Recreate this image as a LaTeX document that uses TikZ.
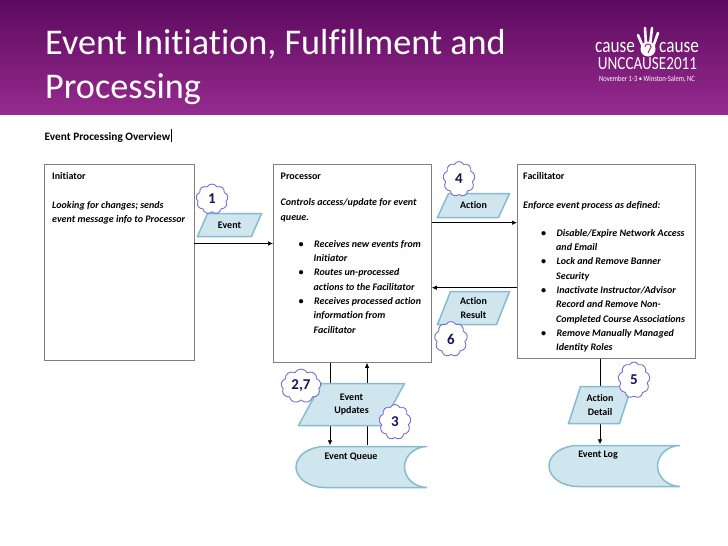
\documentclass[tikz,border=0pt]{standalone}
\usepackage{fontspec}
\setmainfont[Ligatures=NoCommon]{Carlito}
\newfontfamily\logofont[FakeStretch=0.82]{Carlito}
\definecolor{BandTop}{HTML}{5C0A5E}
\definecolor{BandLow}{HTML}{962B8E}
\definecolor{DataFill}{HTML}{CFE6EF}
\definecolor{DataLine}{HTML}{86BBD0}
\definecolor{PanelLine}{HTML}{7F7F7F}
\definecolor{CloudLine}{HTML}{7A6CD0}
\definecolor{StepInk}{HTML}{14145E}
\usetikzlibrary{arrows.meta,positioning,shapes.symbols}
\newcommand{\bul}[1]{\hspace*{18pt}\textbullet\hspace{10.5pt}#1}
\newcommand{\cont}[1]{\hspace*{33pt}#1}
\tikzset{
  panel/.style={draw=PanelLine,line width=.8pt,fill=white,anchor=north west,inner sep=0pt},
  paneltext/.style={inner sep=0pt,align=left,font=\fontsize{10}{14.3}\selectfont\bfseries\itshape},
  flow/.style={-{Latex[length=5pt,width=4.5pt]},line width=.7pt,black},
  databox/.style n args={3}{minimum width=#1,minimum height=#2,inner sep=0pt,align=center,
    font=\fontsize{10}{13.5}\selectfont\bfseries,
    path picture={\draw[DataLine,fill=DataFill,line width=1.5pt]
      ([shift={(1pt,1pt)}]path picture bounding box.south west)
      -- ([shift={(#3,-1pt)}]path picture bounding box.north west)
      -- ([shift={(-1pt,-1pt)}]path picture bounding box.north east)
      -- ([shift={(-#3,1pt)}]path picture bounding box.south east)
      -- cycle;}},
  storebox/.style n args={3}{minimum width=#1,minimum height=#2,inner sep=0pt,
    path picture={\draw[DataLine,fill=DataFill,line width=1.5pt]
      ([shift={(.5pt,-1pt)}]path picture bounding box.north east)
      -- ([shift={(30pt,-1pt)}]path picture bounding box.north west)
      arc[start angle=90,end angle=270,x radius=29pt,y radius=#3]
      -- ([shift={(.5pt,1pt)}]path picture bounding box.south east)
      arc[start angle=270,end angle=90,x radius=23pt,y radius=#3]
      -- cycle;}},
  steptag/.style n args={2}{cloud,cloud puffs=9,cloud puff arc=125,draw=CloudLine,line width=.9pt,fill=white,
    cloud ignores aspect,minimum width=#1,minimum height=#2,inner sep=0pt,text=StepInk,
    font=\fontsize{15}{15}\selectfont\bfseries}
}
\begin{document}
\begin{tikzpicture}[x=1pt,y=-1pt]
  \useasboundingbox (0,0) rectangle (728,546);
  \shade[top color=BandTop,bottom color=BandLow] (0,0) rectangle (728,114);
  \node[anchor=north west,inner sep=0pt,align=left,text=white,font=\fontsize{36.2}{44}\selectfont] (title) at (45,29)
    {Event Initiation, Fulfillment and\\Processing};

  % logo
  \node[text=white,inner sep=0pt,font=\logofont\fontsize{21}{21}\selectfont] (causea) at (615,47) {cause};
  \node[text=white,inner sep=0pt,font=\logofont\fontsize{21}{21}\selectfont] (causeb) at (679,47) {cause};
  \node[text=white,inner sep=0pt,font=\logofont\fontsize{18.5}{18.5}\selectfont] (unc) at (647.5,64) {UNCCAUSE2011};
  \node[text=white,inner sep=0pt,font=\logofont\fontsize{8}{8}\selectfont] (dates) at (647,79) {November 1-3 • Winston-Salem, NC};
  \fill[white] (648,49) circle (7.5);
  \draw[white,line width=2.6pt,line cap=round] (643,47)--(638,35) (646,45)--(645,28) (650,45)--(652,28) (653,47)--(658,33);
  \draw[BandLow,line width=1pt] (645,47) arc[start angle=180,end angle=360,radius=3] -- (648,53);

  % heading
  \node[anchor=west,inner sep=0pt,font=\fontsize{11.3}{13}\selectfont\bfseries] (overview) at (44.5,137) {Event Processing Overview};
  \coordinate (caret) at (171,0);
  \draw[black,line width=.9pt] (caret |- overview.north) ++(0,-3) -- (caret |- overview.south) ;

  % panels
  \node[panel,minimum width=149.5pt,minimum height=196pt] (initiator) at (44,164) {};
  \node[panel,minimum width=158pt,minimum height=198pt] (processor) at (273,164) {};
  \node[panel,minimum width=178pt,minimum height=194pt] (facilitator) at (517,164) {};
  \node[paneltext,anchor=north west,below right=8.5pt and 8pt of initiator.north west] (initiatortext)
    {\textup{Initiator}\\[14.3pt]Looking for changes; sends\\event message info to Processor};
  \node[paneltext,anchor=north west,below right=8.5pt and 7.5pt of processor.north west] (processortext)
    {\textup{Processor}\\[12.3pt]Controls access/update for event\\queue.\\[13pt]%
     \bul{Receives new events from}\\\cont{Initiator}\\%
     \bul{Routes un-processed}\\\cont{actions to the Facilitator}\\%
     \bul{Receives processed action}\\\cont{information from}\\\cont{Facilitator}};
  \node[paneltext,anchor=north west,below right=8.5pt and 6pt of facilitator.north west] (facilitatortext)
    {\textup{Facilitator}\\[14pt]Enforce event process as defined:\\[14pt]%
     \bul{Disable/Expire Network Access}\\\cont{and Email}\\%
     \bul{Lock and Remove Banner}\\\cont{Security}\\%
     \bul{Inactivate Instructor/Advisor}\\\cont{Record and Remove Non-}\\\cont{Completed Course Associations}\\%
     \bul{Remove Manually Managed}\\\cont{Identity Roles}};

  % stores
  \node[storebox={132pt}{43pt}{20.5pt},label={[xshift=-10pt,yshift=10.5pt,font=\fontsize{10}{12}\selectfont\bfseries]center:Event Queue}] (queue) at (361,467) {};
  \node[storebox={132pt}{43pt}{20.5pt},label={[xshift=-16pt,yshift=11pt,font=\fontsize{10}{12}\selectfont\bfseries]center:Event Log}] (eventlog) at (614,466) {};

  % connectors
  \coordinate (linkin) at (0,243.5);
  \coordinate (linkout) at (0,222.7);
  \coordinate (linkback) at (0,287.7);
  \coordinate (linkdown) at (330,0);
  \coordinate (linkup) at (367,0);
  \coordinate (linklog) at (600,0);
  \draw[flow] (initiator.east |- linkin) -- (processor.west |- linkin);
  \draw[flow] (processor.east |- linkout) -- (facilitator.west |- linkout);
  \draw[flow] (facilitator.west |- linkback) -- (processor.east |- linkback);
  \draw[flow] (linkdown |- processor.south) -- (linkdown |- queue.north);
  \draw[flow] (linkup |- queue.north) -- (linkup |- processor.south);
  \draw[flow] (linklog |- facilitator.south) -- (linklog |- eventlog.north);

  % data
  \node[databox={66pt}{25pt}{11pt}] (event) at (229.5,225) {Event};
  \node[databox={74pt}{26pt}{12pt}] (action) at (473.5,205.5) {Action};
  \node[databox={74pt}{35pt}{14pt}] (actionresult) at (473.5,308) {Action\\Result};
  \node[databox={108pt}{44pt}{24pt}] (updates) at (351.5,404.5) {Event\\Updates};
  \node[databox={65pt}{39pt}{13pt}] (actiondetail) at (600,405) {Action\\Detail};

  % step tags
  \node[steptag={32pt}{30pt}] (tagone) at (212,199) {1};
  \node[steptag={32pt}{35pt}] (tagfour) at (459,179) {4};
  \node[steptag={33pt}{35pt}] (tagsix) at (451,339) {6};
  \node[steptag={40pt}{34pt}] (tagtwo) at (301,386) {2,7};
  \node[steptag={32pt}{35pt}] (tagthree) at (395,422) {3};
  \node[steptag={32pt}{36pt}] (tagfive) at (634,380) {5};
\end{tikzpicture}
\end{document}
